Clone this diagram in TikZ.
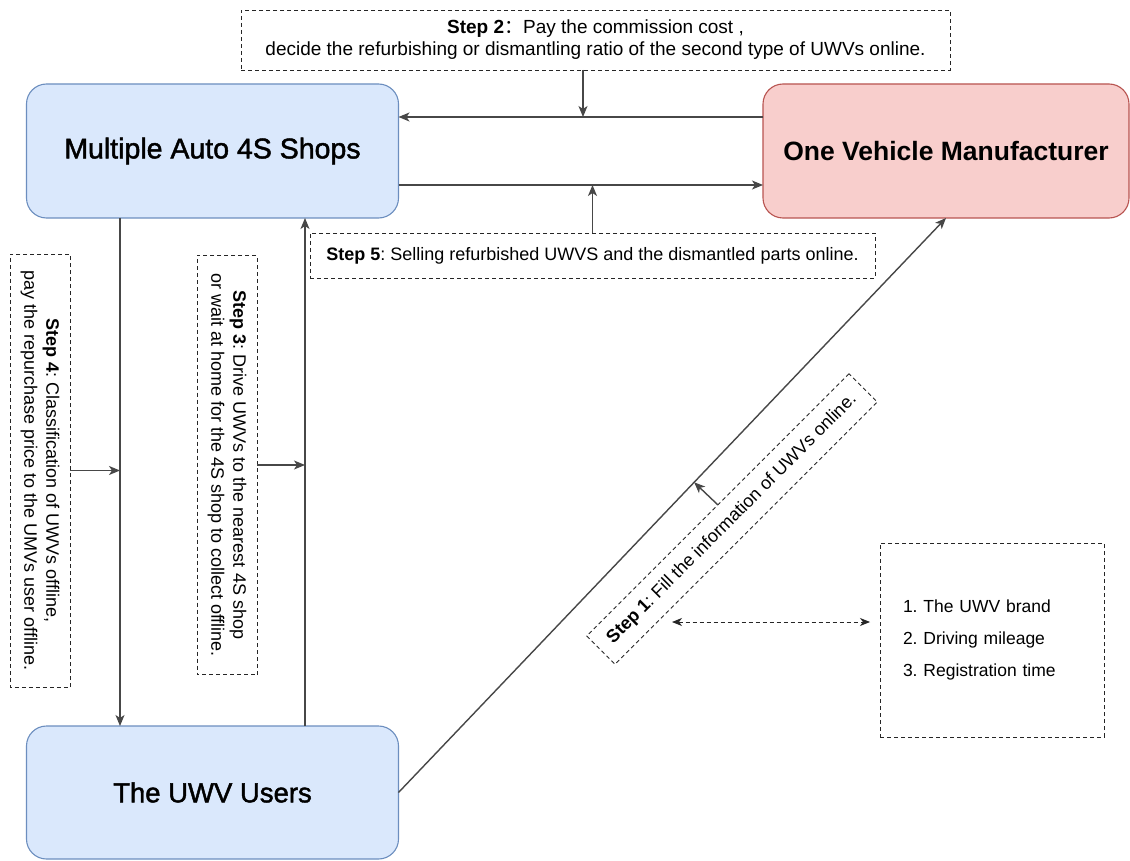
\documentclass[tikz,border=0pt]{standalone}
\usepackage{fontspec}
\setmainfont{Liberation Sans}
\newfontfamily\cjk{Noto Sans CJK SC}
% slightly emboldened regular face for the two blue boxes
\font\shopfont="Liberation Sans:embolden=1.6" at 28.5pt
\font\userfont="Liberation Sans:embolden=1.6" at 27.5pt
\usetikzlibrary{arrows.meta,calc}
\frenchspacing

\definecolor{blueFill}{HTML}{DAE8FC}
\definecolor{blueLine}{HTML}{6C8EBF}
\definecolor{redFill}{HTML}{F8CECC}
\definecolor{redLine}{HTML}{B85450}

\tikzset{
  actor/.style={rectangle, rounded corners=20pt, line width=1.1pt,
    inner sep=0pt, outer sep=0pt},
  bluebox/.style={actor, fill=blueFill, draw=blueLine},
  redbox/.style={actor, fill=redFill, draw=redLine},
  note/.style={draw=black!85, line width=0.9pt, dash pattern=on 4pt off 3pt,
    inner sep=0pt, outer sep=0pt, align=center,
    font=\fontsize{18}{22}\selectfont},
  conn/.style={draw=black!72, line width=1.4pt,
    -{Stealth[length=11pt,width=9pt,inset=3pt]}},
  twoway/.style={draw=black!85, line width=1pt, dash pattern=on 4pt off 3pt,
    {Stealth[length=10pt,width=8pt,inset=3pt]}-{Stealth[length=10pt,width=8pt,inset=3pt]}},
}

\begin{document}
\begin{tikzpicture}[x=1pt, y=-1pt]
\useasboundingbox[fill=white] (0,0) rectangle (1130,861);

% the three parties
\node[bluebox, minimum width=372pt, minimum height=134pt,
      font=\shopfont] (shops) at (212.5,151) {Multiple Auto 4S Shops};
\node[redbox, minimum width=366pt, minimum height=134pt,
      font=\bfseries\fontsize{26.5}{30}\selectfont] (manu) at (946,151) {One Vehicle Manufacturer};
\node[bluebox, minimum width=372pt, minimum height=133pt,
      font=\userfont] (users) at (212.5,792.5) {The UWV Users};

% step notes
\node[note, minimum width=709pt, minimum height=60pt,
      font=\fontsize{19}{22}\selectfont] (step2) at (595.5,40)
  {{\bfseries Step 2}{\cjk ：}Pay the commission cost ,\\
   decide the refurbishing or dismantling ratio of the second type of UWVs online.};
\node[note, minimum width=565pt, minimum height=45pt] (step5) at (592.5,255.5)
  {{\bfseries Step 5}: Selling refurbished UWVS and the dismantled parts online.};
\node[note, rotate=-90, minimum width=433pt, minimum height=60pt] (step4) at (40,470.5)
  {{\bfseries Step 4}: Classification of UWVs offline,\\
   pay the repurchase price to the UMVs user offline.};
\node[note, rotate=-90, minimum width=419pt, minimum height=60pt] (step3) at (227,465)
  {{\bfseries Step 3}: Drive UWVs to the nearest 4S shop\\
   or wait at home for the 4S shop to collect offline.};
\node[note, rotate=45, minimum width=371pt, minimum height=40pt] (step1) at (732,519)
  {{\bfseries Step 1}: Fill the information of UWVs online.};
\node[note, align=left, minimum width=224pt, minimum height=194pt,
      text width=178pt, font=\fontsize{17.5}{32}\selectfont] (info) at (992,640)
  {1. The UWV brand\\2. Driving mileage\\3. Registration time};

% flows between the parties
\draw[conn] ([yshift=34pt]manu.west) -- ([yshift=34pt]shops.east);
\draw[conn] ([yshift=-34pt]shops.east) -- ([yshift=-34pt]manu.west);
\draw[conn] (shops.south -| 120,0) -- (users.north -| 120,0);
\draw[conn] (users.north -| 305,0) -- (shops.south -| 305,0);
\draw[conn] (users.east) -- (manu.south);

% notes pointing at the flows
\coordinate (c2) at (583,117);
\draw[conn] (step2.south -| c2) -- (c2);
\draw[conn] (step5.north) -- (step5.north |- 0,185);
\draw[conn] (step4.north) -- (step4.north -| 120,0);
\draw[conn] (step3.north) -- (step3.north -| 305,0);
\draw[conn] (step1.north) -- ($(users.east)!(step1.north)!(manu.south)$);

% step 1 data fields
\coordinate (d1) at (672,622);
\coordinate (d2) at (870,622);
\draw[twoway] (d1) -- (d2);
\end{tikzpicture}
\end{document}
